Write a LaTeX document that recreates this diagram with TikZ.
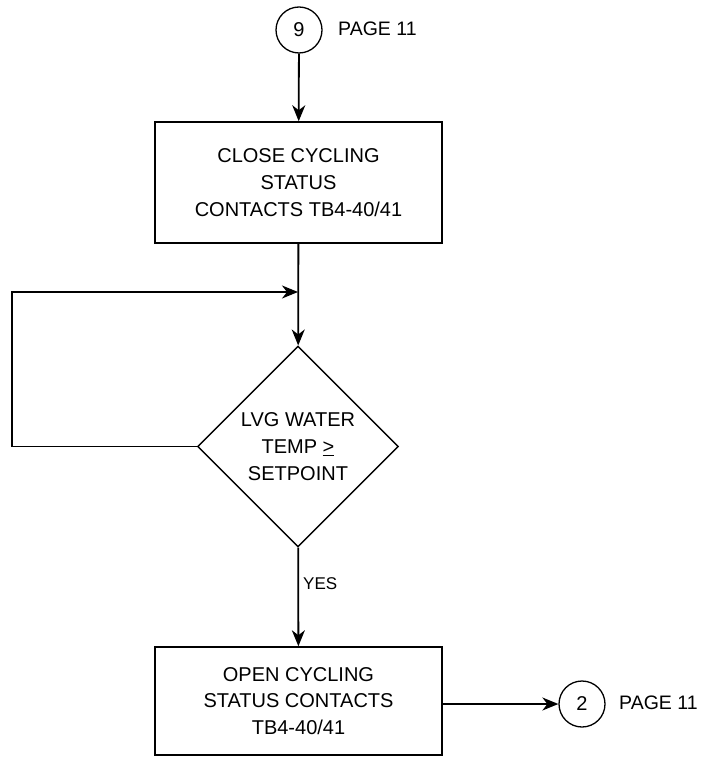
\documentclass[tikz,border=0pt]{standalone}
\usepackage{fontspec}
\setmainfont{Liberation Sans}
\usetikzlibrary{shapes.geometric,arrows.meta}
\begin{document}
\begin{tikzpicture}[x=1pt,y=-1pt,
  every node/.style={font=\fontsize{20}{26.7}\selectfont},
  procbox/.style={draw, line width=1.5pt, rectangle, minimum width=287pt, minimum height=121pt, align=center, inner sep=0pt},
  decbox/.style={draw, line width=1.4pt, diamond, aspect=1, minimum width=201pt, minimum height=201pt, inner sep=0pt, align=center},
  conn/.style={draw, line width=1.3pt, circle, minimum size=46pt, inner sep=0pt},
  lbl/.style={font=\fontsize{19.5}{24}\selectfont, inner sep=0pt},
  arr/.style={line width=1.8pt, -{Stealth[length=16pt,width=13pt,inset=5pt]}}]
\useasboundingbox (0,0) rectangle (706,759);
\node[conn] (c9) at (299,30) {9};
\node[lbl, anchor=west] (p1) at (338,29) {PAGE 11};
\node[procbox] (b1) at (298.5,182.5) {CLOSE CYCLING\\STATUS\\CONTACTS TB4-40/41};
\coordinate (m) at (298,292);
\coordinate (lp) at (12,292);
\node[decbox] (d) at (298,446.5) {LVG WATER\\TEMP \underline{>}\\SETPOINT};
\node[procbox, minimum height=108pt] (b2) at (298.5,701) {OPEN CYCLING\\STATUS CONTACTS\\TB4-40/41};
\node[conn] (c2) at (582,704) {2};
\node[lbl, anchor=west] (p2) at (619,703) {PAGE 11};
\node[lbl, font=\fontsize{17}{20}\selectfont, anchor=base west] (yes) at (303,589) {YES};
\draw[arr] (c9) -- (b1);
\draw[arr] (b1) -- (d);
\draw[arr] (d.west) -| (lp) -- (m);
\draw[arr] (d) -- (b2);
\draw[arr] (b2.east |- c2) -- (c2);
\end{tikzpicture}
\end{document}
